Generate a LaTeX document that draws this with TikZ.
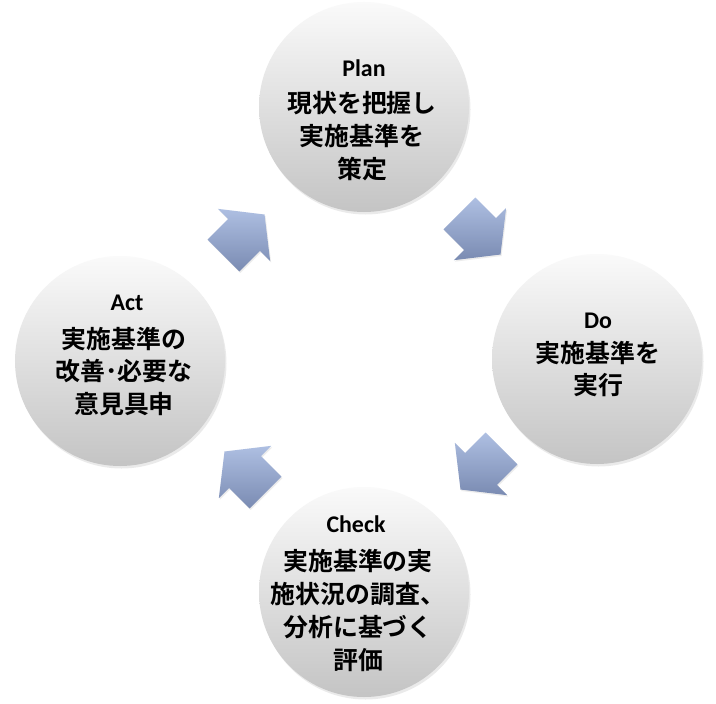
\documentclass[tikz,border=0pt]{standalone}
\usepackage{fontspec}
\setmainfont{Carlito}
\newfontfamily\jp{Noto Sans CJK JP}[BoldFont={Noto Sans CJK JP Bold}]
\usetikzlibrary{shadows}
\definecolor{arrtop}{RGB}{174,191,226}
\definecolor{arrbot}{RGB}{122,139,178}
\definecolor{cirtop}{RGB}{250,250,250}
\definecolor{cirmid}{RGB}{232,232,232}
\definecolor{cirbot}{RGB}{196,196,196}
\newcommand\blockarr[2]{%
  \begin{scope}[shift={(#1)}]
    \shade[blk] (#2:29) -- (#2+90:37) -- (#2+90:22.5) -- (#2+142.2:36.7)
      -- (#2+217.8:36.7) -- (#2+270:22.5) -- (#2+270:37) -- cycle;
  \end{scope}}
\begin{document}
\begin{tikzpicture}[x=1bp,y=-1bp,
  cyc/.style={circle, minimum size=210bp, inner sep=0pt, draw=none,
    top color=cirtop, middle color=cirmid, bottom color=cirbot,
    drop shadow={opacity=0.16, shadow xshift=1.5bp, shadow yshift=-2.5bp}},
  ttl/.style={font=\bfseries\fontsize{24}{28}\selectfont, inner sep=0pt},
  body/.style={font=\jp\bfseries\fontsize{25}{33}\selectfont, align=center, inner sep=0pt},
  blk/.style={top color=arrtop, bottom color=arrbot, draw=none,
    drop shadow={opacity=0.15, shadow xshift=1bp, shadow yshift=-1.5bp}}
]
\useasboundingbox (0,0) rectangle (716,704);
\fill[white] (0,0) rectangle (716,704);

\node[cyc] (plan) at (364,107) {};
\node[cyc] (do) at (597,359) {};
\node[cyc] (check) at (364,592) {};
\node[cyc] (act) at (120,361) {};

\node[ttl] (plant) at (364,68) {Plan};
\node[body] (planb) at (362,136) {現状を把握し\\実施基準を\\策定};
\node[ttl] (dot) at (598,321) {Do};
\node[body] (dob) at (598,369) {実施基準を\\実行};
\node[ttl] (checkt) at (356,524) {Check};
\node[body] (checkb) at (358,610.5) {実施基準の実\\施状況の調査、\\分析に基づく\\評価};
\node[ttl] (actt) at (127,303) {Act};
\node[body] (actb) at (124,371.5) {実施基準の\\改善･必要な\\意見具申};

\coordinate (a1) at (244,235);
\coordinate (a2) at (480,234);
\coordinate (a3) at (481,469);
\coordinate (a4) at (245,472);
\blockarr{a1}{-45}
\blockarr{a2}{45}
\blockarr{a3}{135}
\blockarr{a4}{-135}
\end{tikzpicture}
\end{document}
